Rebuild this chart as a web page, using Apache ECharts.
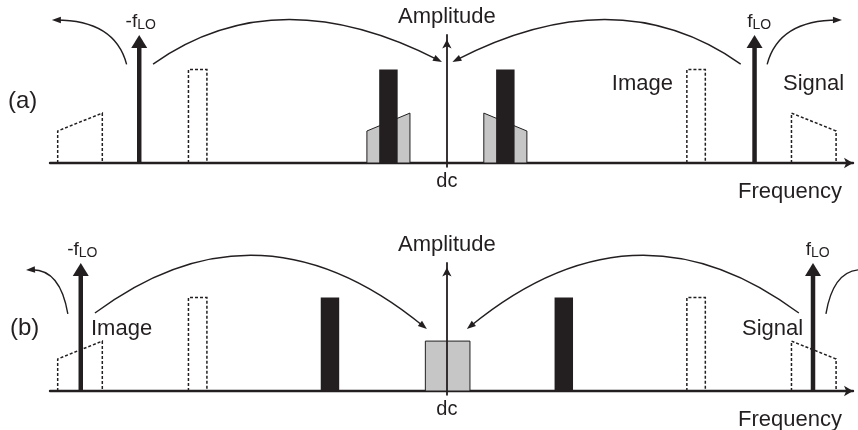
<!DOCTYPE html>
<html><head><meta charset="utf-8">
<script src="https://cdn.jsdelivr.net/npm/echarts@6/dist/echarts.min.js"></script>
<style>html,body{margin:0;padding:0;background:#fff}#c{width:858px;height:430px}</style>
</head><body><div id="c"></div>
<script>
// ---- data (frequency in arbitrary units, dc = 0; amplitude in arbitrary units) ----
const freqMin = -129, freqMax = 132;
const ampMin = -0.3, ampMax = 10;
const loLevel = 10;
const loA = [-100, 100];
const loB = [-119, 119];
const loNames = ['-f', 'f'];
const loSub = 'LO';
// RF bands (dashed): [f0, f1, h0, h1]
const rfBands = [[-126.5, -112, 2.5, 3.9], [112, 126.5, 3.9, 2.5]];
// image tones (dashed): [f0, f1, h]
const rfTones = [[-84, -78, 7.3], [78, 84, 7.3]];
// panel (a) IF products
const ifBandsA = [[-26, -12, 2.5, 3.9], [12, 26, 3.9, 2.5]];
const ifTonesA = [[-22, -16, 7.3], [16, 22, 7.3]];
// panel (b) IF products
const ifBandsB = [[-7, 7.5, 3.9, 3.9]];
const ifTonesB = [[-41, -35, 7.3], [35, 41, 7.3]];
// translation arrows: [x0, y0, ctrlX, ctrlY, x1, y1] (arrowhead at x1,y1)
const arcsA = [
  [-104.1, 7.71, -107.9, 11.17, -128.4, 11.17],
  [-95.5, 7.73, -55.4, 14.53, -1.6, 7.89],
  [95.5, 7.73, 55.4, 14.53, 1.8, 7.89],
  [104.1, 7.71, 107.9, 11.17, 128.4, 11.17]
];
const arcsB = [
  [-123.2, 6.02, -125.7, 9.61, -136.8, 9.45],
  [-114.4, 6.09, -61.1, 15.63, -6.5, 4.84],
  [114.4, 6.09, 61.1, 15.63, 6.5, 4.84],
  [123.2, 6.02, 125.7, 9.61, 136.8, 9.45]
];

// ---- styles ----
const INK = '#231f20', GRAY = '#c6c6c6';
const FAM = '"Liberation Sans", Arial, Helvetica, sans-serif';
const font = s => s + 'px ' + FAM;

function txt(text, x, y, size, align) {
  return { type: 'text', x: 0, y: 0, silent: true,
    style: { text, x, y, font: font(size), fill: INK,
      align, textAlign: align, verticalAlign: 'middle', textVerticalAlign: 'middle' } };
}

function renderShape(kind) {
  return function (params, api) {
    const f0 = api.value(0), f1 = api.value(1);
    const h0 = api.value(2);
    const h1 = kind.flat ? h0 : api.value(3);
    const p0 = api.coord([f0, 0]), p1 = api.coord([f1, 0]);
    const t0 = api.coord([f0, h0]), t1 = api.coord([f1, h1]);
    if (kind.dashed) {
      return { type: 'polyline', shape: { points: [p0, t0, t1, p1] },
        style: { stroke: INK, fill: null, lineWidth: 1.5, lineDash: [3, 2] } };
    }
    return { type: 'polygon', shape: { points: [p0, t0, t1, p1] },
      style: { fill: kind.fill, stroke: kind.fill === GRAY ? INK : null, lineWidth: 1 } };
  };
}

function renderLO(params, api) {
  const x = api.value(0);
  const b = api.coord([x, 0]), tip = api.coord([x, api.value(1)]);
  const hh = 13, hw = 8;
  return { type: 'group', children: [
    { type: 'line', shape: { x1: b[0], y1: b[1], x2: tip[0], y2: tip[1] + hh - 1 },
      style: { stroke: INK, lineWidth: 4.5 } },
    { type: 'polygon', shape: { points: [[tip[0], tip[1]], [tip[0] - hw, tip[1] + hh], [tip[0] + hw, tip[1] + hh]] },
      style: { fill: INK } },
    { type: 'text', style: { text: loNames[params.dataIndex], x: tip[0] - 2, y: tip[1] - 13.1, font: font(19), fill: INK,
      align: 'right', textAlign: 'right', verticalAlign: 'middle', textVerticalAlign: 'middle' } },
    { type: 'text', style: { text: loSub, x: tip[0] - 2, y: tip[1] - 9.8, font: font(14), fill: INK,
      align: 'left', textAlign: 'left', verticalAlign: 'middle', textVerticalAlign: 'middle' } }
  ] };
}

function renderArc(params, api) {
  const p0 = api.coord([api.value(0), api.value(1)]);
  const c = api.coord([api.value(2), api.value(3)]);
  const p1 = api.coord([api.value(4), api.value(5)]);
  let dx = p1[0] - c[0], dy = p1[1] - c[1];
  const L = Math.hypot(dx, dy); dx /= L; dy /= L;
  const len = 9, hw = 3.3;
  const bx = p1[0] - dx * len, by = p1[1] - dy * len;
  return { type: 'group', children: [
    { type: 'bezierCurve', shape: { x1: p0[0], y1: p0[1], cpx1: c[0], cpy1: c[1], x2: p1[0] - dx * 4, y2: p1[1] - dy * 4 },
      style: { stroke: INK, fill: null, lineWidth: 1.4 } },
    { type: 'polygon', shape: { points: [[p1[0], p1[1]], [bx - dy * hw, by + dx * hw], [bx + dy * hw, by - dx * hw]] },
      style: { fill: INK } }
  ] };
}

const panels = [
  { lo: loA, ifBands: ifBandsA, ifTones: ifTonesA, arcs: arcsA },
  { lo: loB, ifBands: ifBandsB, ifTones: ifTonesB, arcs: arcsB }
];

const series = [];
panels.forEach((p, i) => {
  const ax = { xAxisIndex: i, yAxisIndex: i, clip: false, silent: true, z: 2 };
  series.push(Object.assign({ type: 'custom', renderItem: renderShape({ dashed: true }), data: rfBands }, ax));
  series.push(Object.assign({ type: 'custom', renderItem: renderShape({ dashed: true, flat: true }), data: rfTones }, ax));
  series.push(Object.assign({ type: 'custom', renderItem: renderShape({ fill: GRAY, flat: p.ifBands[0][2] === p.ifBands[0][3] && false }), data: p.ifBands }, ax));
  series.push(Object.assign({ type: 'custom', renderItem: renderShape({ fill: INK, flat: true }), data: p.ifTones }, ax));
  series.push(Object.assign({ type: 'custom', renderItem: renderLO, data: p.lo.map(f => [f, loLevel]) }, ax));
  series.push(Object.assign({ type: 'custom', renderItem: renderArc, data: p.arcs }, ax));
});

const option = {
  animation: false,
  backgroundColor: '#fff',
  grid: [
    { left: 50, right: 5, top: 35, height: 131.84, outerBoundsMode: 'none', containLabel: false },
    { left: 50, right: 5, top: 263, height: 131.84, outerBoundsMode: 'none', containLabel: false }
  ],
  xAxis: [0, 1].map(i => ({
    type: 'value', gridIndex: i, min: freqMin, max: freqMax,
    axisLine: { show: true, onZero: true, lineStyle: { color: INK, width: 2.4 },
      symbol: ['none', 'arrow'], symbolSize: [8, 9] },
    axisTick: { show: false }, splitLine: { show: false },
    axisLabel: { customValues: [0], formatter: v => (v === 0 ? 'dc' : ''), color: INK,
      fontSize: 20, fontFamily: FAM, margin: 15, verticalAlign: 'middle' }
  })),
  yAxis: [0, 1].map(i => ({
    type: 'value', gridIndex: i, min: ampMin, max: ampMax, z: 3,
    axisLine: { show: true, onZero: true, lineStyle: { color: INK, width: 1.8 },
      symbol: ['none', 'arrow'], symbolSize: [7, 9], symbolOffset: [0, -4.5] },
    axisTick: { show: false }, axisLabel: { show: false }, splitLine: { show: false },
    name: 'Amplitude', nameLocation: 'end', nameGap: 18,
    nameTextStyle: { color: INK, fontSize: 22, fontFamily: FAM, align: 'center', verticalAlign: 'middle' }
  })),
  graphic: [
    txt('(a)', 8, 101.7, 24, 'left'),
    txt('(b)', 10, 328.7, 24, 'left'),
    txt('Image', 673, 84.4, 22, 'right'),
    txt('Signal', 783, 84.4, 22, 'left'),
    txt('Image', 91, 329.1, 22, 'left'),
    txt('Signal', 742, 329.1, 22, 'left'),
    txt('Frequency', 842, 191.7, 22, 'right'),
    txt('Frequency', 842, 420.1, 22, 'right')
  ],
  series
};

const chart = echarts.init(document.getElementById('c'), null, { renderer: 'canvas' });
chart.setOption(option);
</script>
</body></html>
